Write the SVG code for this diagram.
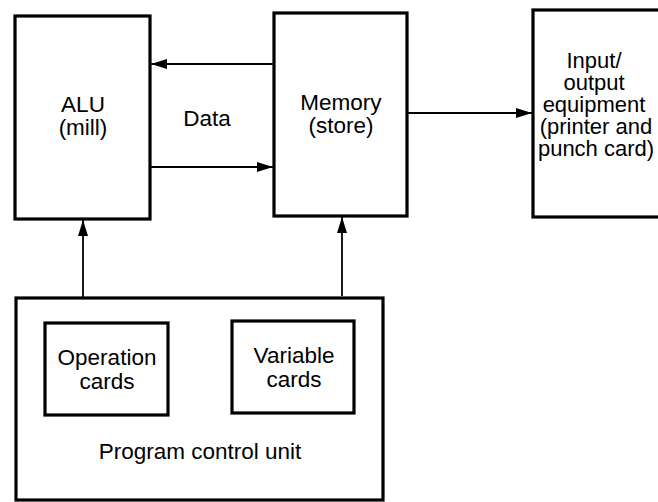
<svg xmlns="http://www.w3.org/2000/svg" width="658" height="502" viewBox="0 0 658 502">
  <defs>
    <style>
      .box { fill: #ffffff; stroke: #000000; stroke-width: 3.2; }
      .link { fill: none; stroke: #000000; stroke-width: 1.8; }
      .label { font-family: "Liberation Sans", Arial, sans-serif; font-size: 22.5px; fill: #000000; text-anchor: middle; }
      .io { font-size: 22px; }
    </style>
    <marker id="arrow" viewBox="0 0 16 10" refX="16" refY="5" markerWidth="16" markerHeight="10" markerUnits="userSpaceOnUse" orient="auto">
      <path d="M0,0 L16,5 L0,10 Z" fill="#000000"/>
    </marker>
  </defs>
  <rect width="658" height="502" fill="#ffffff"/>

  <g id="alu">
    <rect class="box" x="15" y="16" width="135" height="203"/>
    <text class="label" x="83" y="112">ALU</text>
    <text class="label" x="83" y="135">(mill)</text>
  </g>

  <g id="memory">
    <rect class="box" x="274" y="13" width="133" height="203"/>
    <text class="label" x="341" y="110">Memory</text>
    <text class="label" x="341" y="133">(store)</text>
  </g>

  <g id="io">
    <rect class="box" x="533" y="10" width="180" height="207"/>
    <text class="label io" x="594" y="68">Input/</text>
    <text class="label io" x="594" y="90">output</text>
    <text class="label io" x="594" y="112">equipment</text>
    <text class="label io" x="596" y="134">(printer and</text>
    <text class="label io" x="596" y="156">punch card)</text>
  </g>

  <g id="program-control-unit">
    <rect class="box" x="16" y="298" width="367" height="202"/>
    <text class="label" x="200" y="459">Program control unit</text>
  </g>

  <g id="operation-cards">
    <rect class="box" x="45" y="323" width="123" height="92"/>
    <text class="label" x="107" y="365">Operation</text>
    <text class="label" x="107" y="389">cards</text>
  </g>

  <g id="variable-cards">
    <rect class="box" x="232" y="321" width="122" height="92"/>
    <text class="label" x="294" y="363">Variable</text>
    <text class="label" x="294" y="387">cards</text>
  </g>

  <g id="data-label">
    <text class="label" x="207" y="126">Data</text>
  </g>

  <g id="connectors">
    <line class="link" x1="273" y1="64" x2="151" y2="64" marker-end="url(#arrow)"/>
    <line class="link" x1="151" y1="167" x2="273" y2="167" marker-end="url(#arrow)"/>
    <line class="link" x1="408" y1="113" x2="532" y2="113" marker-end="url(#arrow)"/>
    <line class="link" x1="83" y1="297" x2="83" y2="220" marker-end="url(#arrow)"/>
    <line class="link" x1="342" y1="296" x2="342" y2="217" marker-end="url(#arrow)"/>
  </g>
</svg>
